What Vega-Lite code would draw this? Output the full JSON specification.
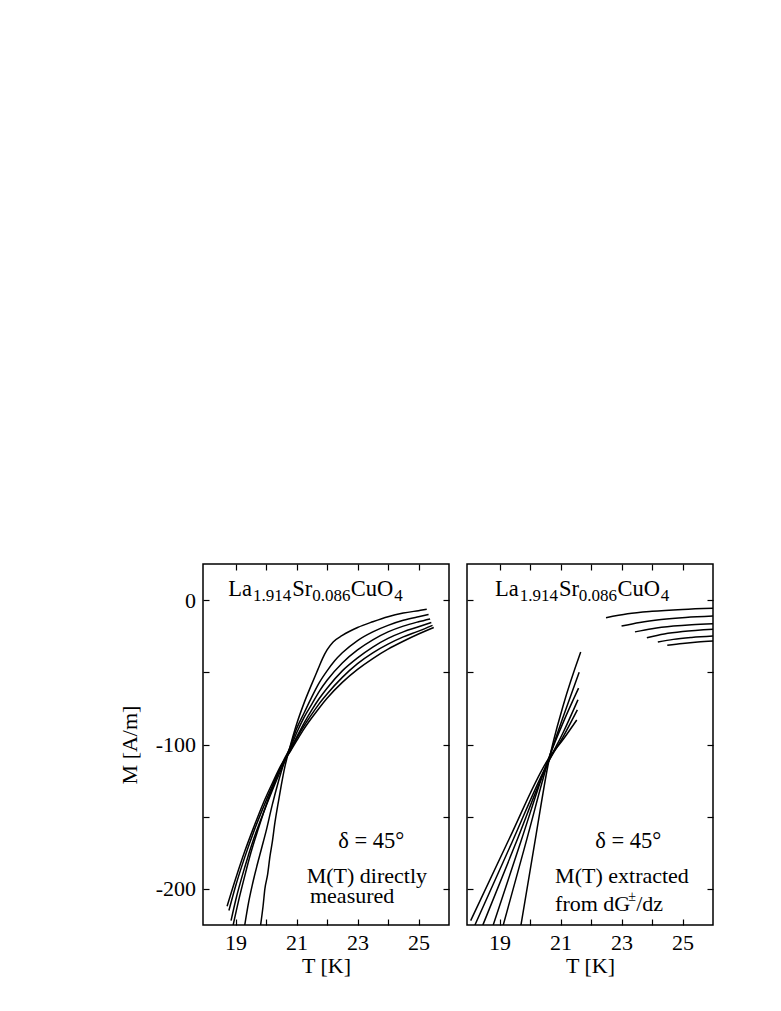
{
  "$schema": "https://vega.github.io/schema/vega-lite/v6.json",
  "background": "white",
  "padding": {"left": 117, "top": 562, "right": 5, "bottom": 5},
  "datasets": {
    "left": [
      {"c":0,"T":19.82,"M":-225},{"c":0,"T":19.9,"M":-212},{"c":0,"T":19.96,"M":-200},{"c":0,"T":20.05,"M":-190},{"c":0,"T":20.13,"M":-177},{"c":0,"T":20.2,"M":-168},{"c":0,"T":20.29,"M":-154},{"c":0,"T":20.4,"M":-140},{"c":0,"T":20.5,"M":-128},{"c":0,"T":20.62,"M":-115},{"c":0,"T":20.78,"M":-102},{"c":0,"T":21.0,"M":-86},{"c":0,"T":21.25,"M":-71},{"c":0,"T":21.5,"M":-58},{"c":0,"T":21.7,"M":-48},{"c":0,"T":21.85,"M":-40.5},{"c":0,"T":22.0,"M":-34.5},{"c":0,"T":22.2,"M":-29},{"c":0,"T":22.5,"M":-24.5},{"c":0,"T":23.0,"M":-19},{"c":0,"T":23.5,"M":-15},{"c":0,"T":24.0,"M":-11.5},{"c":0,"T":24.5,"M":-9},{"c":0,"T":25.0,"M":-7.3},{"c":0,"T":25.27,"M":-6.4},
      {"c":1,"T":19.3,"M":-225},{"c":1,"T":19.42,"M":-210},{"c":1,"T":19.55,"M":-197},{"c":1,"T":19.7,"M":-184},{"c":1,"T":19.85,"M":-172},{"c":1,"T":20.0,"M":-160},{"c":1,"T":20.2,"M":-142},{"c":1,"T":20.4,"M":-126},{"c":1,"T":20.6,"M":-112},{"c":1,"T":20.8,"M":-101},{"c":1,"T":21.0,"M":-89},{"c":1,"T":21.25,"M":-78},{"c":1,"T":21.5,"M":-67},{"c":1,"T":21.75,"M":-57},{"c":1,"T":22.0,"M":-49},{"c":1,"T":22.25,"M":-42},{"c":1,"T":22.5,"M":-36.5},{"c":1,"T":23.0,"M":-28},{"c":1,"T":23.5,"M":-22},{"c":1,"T":24.0,"M":-17.5},{"c":1,"T":24.5,"M":-14},{"c":1,"T":25.0,"M":-11.5},{"c":1,"T":25.33,"M":-10},
      {"c":2,"T":18.92,"M":-225},{"c":2,"T":19.1,"M":-208},{"c":2,"T":19.3,"M":-191},{"c":2,"T":19.5,"M":-175},{"c":2,"T":19.75,"M":-158},{"c":2,"T":20.0,"M":-142},{"c":2,"T":20.3,"M":-125},{"c":2,"T":20.6,"M":-110},{"c":2,"T":20.8,"M":-102},{"c":2,"T":21.0,"M":-92},{"c":2,"T":21.25,"M":-81},{"c":2,"T":21.5,"M":-72},{"c":2,"T":21.75,"M":-63},{"c":2,"T":22.0,"M":-55.5},{"c":2,"T":22.5,"M":-43.5},{"c":2,"T":23.0,"M":-34.5},{"c":2,"T":23.5,"M":-27.5},{"c":2,"T":24.0,"M":-22},{"c":2,"T":24.5,"M":-18},{"c":2,"T":25.0,"M":-15},{"c":2,"T":25.38,"M":-13},
      {"c":3,"T":18.85,"M":-222},{"c":3,"T":19.0,"M":-208},{"c":3,"T":19.3,"M":-185},{"c":3,"T":19.6,"M":-165},{"c":3,"T":19.9,"M":-148},{"c":3,"T":20.2,"M":-132},{"c":3,"T":20.5,"M":-117},{"c":3,"T":20.8,"M":-103},{"c":3,"T":21.0,"M":-95},{"c":3,"T":21.25,"M":-85},{"c":3,"T":21.5,"M":-76},{"c":3,"T":21.75,"M":-68},{"c":3,"T":22.0,"M":-61},{"c":3,"T":22.5,"M":-49},{"c":3,"T":23.0,"M":-40},{"c":3,"T":23.5,"M":-32.5},{"c":3,"T":24.0,"M":-26.5},{"c":3,"T":24.5,"M":-22},{"c":3,"T":25.0,"M":-18.5},{"c":3,"T":25.42,"M":-15.5},
      {"c":4,"T":18.78,"M":-215},{"c":4,"T":19.0,"M":-198},{"c":4,"T":19.3,"M":-178},{"c":4,"T":19.6,"M":-160},{"c":4,"T":19.9,"M":-144},{"c":4,"T":20.2,"M":-129},{"c":4,"T":20.5,"M":-115},{"c":4,"T":20.8,"M":-104},{"c":4,"T":21.0,"M":-96},{"c":4,"T":21.25,"M":-87},{"c":4,"T":21.5,"M":-79},{"c":4,"T":21.75,"M":-71.5},{"c":4,"T":22.0,"M":-65},{"c":4,"T":22.5,"M":-53.5},{"c":4,"T":23.0,"M":-44},{"c":4,"T":23.5,"M":-36.5},{"c":4,"T":24.0,"M":-30.5},{"c":4,"T":24.5,"M":-25.5},{"c":4,"T":25.0,"M":-21.5},{"c":4,"T":25.46,"M":-17.5},
      {"c":5,"T":18.72,"M":-212},{"c":5,"T":19.0,"M":-193},{"c":5,"T":19.3,"M":-174},{"c":5,"T":19.6,"M":-157},{"c":5,"T":19.9,"M":-141},{"c":5,"T":20.2,"M":-127},{"c":5,"T":20.5,"M":-114},{"c":5,"T":20.8,"M":-104.5},{"c":5,"T":21.0,"M":-97.5},{"c":5,"T":21.25,"M":-89},{"c":5,"T":21.5,"M":-81.5},{"c":5,"T":21.75,"M":-74.5},{"c":5,"T":22.0,"M":-68},{"c":5,"T":22.5,"M":-57},{"c":5,"T":23.0,"M":-48},{"c":5,"T":23.5,"M":-40.5},{"c":5,"T":24.0,"M":-34},{"c":5,"T":24.5,"M":-28.5},{"c":5,"T":25.0,"M":-23.5},{"c":5,"T":25.5,"M":-19}
    ],
    "right": [
      {"c":0,"T":19.7,"M":-225},{"c":0,"T":20.2,"M":-162},{"c":0,"T":20.6,"M":-113},{"c":0,"T":21.1,"M":-72},{"c":0,"T":21.66,"M":-36},
      {"c":1,"T":19.12,"M":-225},{"c":1,"T":19.9,"M":-165},{"c":1,"T":20.6,"M":-111},{"c":1,"T":21.1,"M":-80},{"c":1,"T":21.61,"M":-50},
      {"c":2,"T":18.79,"M":-225},{"c":2,"T":19.7,"M":-167},{"c":2,"T":20.6,"M":-110},{"c":2,"T":21.1,"M":-84},{"c":2,"T":21.59,"M":-61},
      {"c":3,"T":18.45,"M":-225},{"c":3,"T":19.5,"M":-170},{"c":3,"T":20.6,"M":-112},{"c":3,"T":21.1,"M":-91},{"c":3,"T":21.57,"M":-69},
      {"c":4,"T":18.19,"M":-225},{"c":4,"T":19.4,"M":-168},{"c":4,"T":20.6,"M":-112},{"c":4,"T":21.1,"M":-94},{"c":4,"T":21.55,"M":-76},
      {"c":5,"T":18.05,"M":-222},{"c":5,"T":19.3,"M":-166},{"c":5,"T":20.6,"M":-110},{"c":5,"T":21.1,"M":-96},{"c":5,"T":21.53,"M":-83},
      {"c":6,"T":22.49,"M":-12.2},{"c":6,"T":23.2,"M":-9.5},{"c":6,"T":24.0,"M":-7.8},{"c":6,"T":25.0,"M":-6.5},{"c":6,"T":26.0,"M":-5.7},
      {"c":7,"T":23.0,"M":-18},{"c":7,"T":23.6,"M":-15.5},{"c":7,"T":24.3,"M":-13.5},{"c":7,"T":25.1,"M":-12},{"c":7,"T":26.0,"M":-11},
      {"c":8,"T":23.44,"M":-22},{"c":8,"T":24.0,"M":-19.8},{"c":8,"T":24.7,"M":-18},{"c":8,"T":25.3,"M":-17},{"c":8,"T":26.0,"M":-16.3},
      {"c":9,"T":23.83,"M":-26},{"c":9,"T":24.4,"M":-23.5},{"c":9,"T":25.0,"M":-21.8},{"c":9,"T":26.0,"M":-20.2},
      {"c":10,"T":24.19,"M":-29},{"c":10,"T":24.7,"M":-27.2},{"c":10,"T":25.3,"M":-25.9},{"c":10,"T":26.0,"M":-24.9},
      {"c":11,"T":24.5,"M":-31.3},{"c":11,"T":25.0,"M":-30},{"c":11,"T":25.5,"M":-29},{"c":11,"T":26.0,"M":-28.3}
    ]
  },
  "spacing": 18,
  "bounds": "flush",
  "hconcat": [
    {
      "width": 246,
      "height": 361,
      "resolve": {"axis": {"x": "independent", "y": "independent"}},
      "layer": [
        {
          "data": {"name": "left"},
          "mark": {"type": "line", "color": "black", "strokeWidth": 1.5, "interpolate": "monotone", "clip": true},
          "encoding": {
            "x": {"field": "T", "type": "quantitative", "scale": {"domain": [17.93, 26], "nice": false, "zero": false},
                  "axis": {"orient": "bottom", "values": [19,20,21,22,23,24,25], "labelExpr": "datum.value % 2 == 1 ? datum.label : ''", "title": "T [K]"}},
            "y": {"field": "M", "type": "quantitative", "scale": {"domain": [-225, 25], "nice": false, "zero": false},
                  "axis": {"orient": "left", "values": [-200,-150,-100,-50,0], "labelExpr": "datum.value % 100 == 0 ? '' + datum.value : ''", "title": "M [A/m]"}},
            "detail": {"field": "c", "type": "nominal"}
          }
        },
        {
          "data": {"values": [{}]},
          "mark": {"type": "text", "text": "La", "align": "left", "baseline": "alphabetic", "font": "Liberation Serif", "fontSize": 22.5, "color": "black"},
          "encoding": {
            "x": {"datum": 18.76, "type": "quantitative", "axis": {"orient": "top", "values": [19,20,21,22,23,24,25], "labels": false, "title": null}},
            "y": {"datum": 2.84, "type": "quantitative", "axis": {"orient": "right", "values": [-200,-150,-100,-50,0], "labels": false, "title": null}}
          }
        },
        {
          "data": {"values": [{}]},
          "mark": {"type": "text", "text": "1.914", "align": "left", "baseline": "alphabetic", "font": "Liberation Serif", "fontSize": 17, "color": "black"},
          "encoding": {"x": {"datum": 19.57, "type": "quantitative", "axis": null}, "y": {"datum": -0.6, "type": "quantitative", "axis": null}}
        },
        {
          "data": {"values": [{}]},
          "mark": {"type": "text", "text": "Sr", "align": "left", "baseline": "alphabetic", "font": "Liberation Serif", "fontSize": 22.5, "color": "black"},
          "encoding": {"x": {"datum": 20.86, "type": "quantitative", "axis": null}, "y": {"datum": 2.84, "type": "quantitative", "axis": null}}
        },
        {
          "data": {"values": [{}]},
          "mark": {"type": "text", "text": "0.086", "align": "left", "baseline": "alphabetic", "font": "Liberation Serif", "fontSize": 17, "color": "black"},
          "encoding": {"x": {"datum": 21.51, "type": "quantitative", "axis": null}, "y": {"datum": -0.6, "type": "quantitative", "axis": null}}
        },
        {
          "data": {"values": [{}]},
          "mark": {"type": "text", "text": "CuO", "align": "left", "baseline": "alphabetic", "font": "Liberation Serif", "fontSize": 22.5, "color": "black"},
          "encoding": {"x": {"datum": 22.78, "type": "quantitative", "axis": null}, "y": {"datum": 2.84, "type": "quantitative", "axis": null}}
        },
        {
          "data": {"values": [{}]},
          "mark": {"type": "text", "text": "4", "align": "left", "baseline": "alphabetic", "font": "Liberation Serif", "fontSize": 17, "color": "black"},
          "encoding": {"x": {"datum": 24.2, "type": "quantitative", "axis": null}, "y": {"datum": -0.6, "type": "quantitative", "axis": null}}
        },
        {
          "data": {"values": [{}]},
          "mark": {"type": "text", "text": "δ = 45°", "align": "center", "baseline": "alphabetic", "font": "Liberation Serif", "fontSize": 22.5, "color": "black"},
          "encoding": {"x": {"datum": 23.45, "type": "quantitative", "axis": null}, "y": {"datum": -171.5, "type": "quantitative", "axis": null}}
        },
        {
          "data": {"values": [{}]},
          "mark": {"type": "text", "text": "M(T) directly", "align": "left", "baseline": "alphabetic", "font": "Liberation Serif", "fontSize": 22, "color": "black"},
          "encoding": {"x": {"datum": 21.33, "type": "quantitative", "axis": null}, "y": {"datum": -195.7, "type": "quantitative", "axis": null}}
        },
        {
          "data": {"values": [{}]},
          "mark": {"type": "text", "text": "measured", "align": "left", "baseline": "alphabetic", "font": "Liberation Serif", "fontSize": 22, "color": "black"},
          "encoding": {"x": {"datum": 21.44, "type": "quantitative", "axis": null}, "y": {"datum": -210, "type": "quantitative", "axis": null}}
        }
      ]
    },
    {
      "width": 246,
      "height": 361,
      "resolve": {"axis": {"x": "independent", "y": "independent"}},
      "layer": [
        {
          "data": {"name": "right"},
          "mark": {"type": "line", "color": "black", "strokeWidth": 1.5, "interpolate": "monotone", "clip": true},
          "encoding": {
            "x": {"field": "T", "type": "quantitative", "scale": {"domain": [17.93, 26], "nice": false, "zero": false},
                  "axis": {"orient": "bottom", "values": [19,20,21,22,23,24,25], "labelExpr": "datum.value % 2 == 1 ? datum.label : ''", "title": "T [K]"}},
            "y": {"field": "M", "type": "quantitative", "scale": {"domain": [-225, 25], "nice": false, "zero": false},
                  "axis": {"orient": "left", "values": [-200,-150,-100,-50,0], "labels": false, "title": null}},
            "detail": {"field": "c", "type": "nominal"}
          }
        },
        {
          "data": {"values": [{}]},
          "mark": {"type": "text", "text": "La", "align": "left", "baseline": "alphabetic", "font": "Liberation Serif", "fontSize": 22.5, "color": "black"},
          "encoding": {
            "x": {"datum": 18.85, "type": "quantitative", "axis": {"orient": "top", "values": [19,20,21,22,23,24,25], "labels": false, "title": null}},
            "y": {"datum": 2.84, "type": "quantitative", "axis": {"orient": "right", "values": [-200,-150,-100,-50,0], "labels": false, "title": null}}
          }
        },
        {
          "data": {"values": [{}]},
          "mark": {"type": "text", "text": "1.914", "align": "left", "baseline": "alphabetic", "font": "Liberation Serif", "fontSize": 17, "color": "black"},
          "encoding": {"x": {"datum": 19.66, "type": "quantitative", "axis": null}, "y": {"datum": -0.6, "type": "quantitative", "axis": null}}
        },
        {
          "data": {"values": [{}]},
          "mark": {"type": "text", "text": "Sr", "align": "left", "baseline": "alphabetic", "font": "Liberation Serif", "fontSize": 22.5, "color": "black"},
          "encoding": {"x": {"datum": 20.95, "type": "quantitative", "axis": null}, "y": {"datum": 2.84, "type": "quantitative", "axis": null}}
        },
        {
          "data": {"values": [{}]},
          "mark": {"type": "text", "text": "0.086", "align": "left", "baseline": "alphabetic", "font": "Liberation Serif", "fontSize": 17, "color": "black"},
          "encoding": {"x": {"datum": 21.6, "type": "quantitative", "axis": null}, "y": {"datum": -0.6, "type": "quantitative", "axis": null}}
        },
        {
          "data": {"values": [{}]},
          "mark": {"type": "text", "text": "CuO", "align": "left", "baseline": "alphabetic", "font": "Liberation Serif", "fontSize": 22.5, "color": "black"},
          "encoding": {"x": {"datum": 22.87, "type": "quantitative", "axis": null}, "y": {"datum": 2.84, "type": "quantitative", "axis": null}}
        },
        {
          "data": {"values": [{}]},
          "mark": {"type": "text", "text": "4", "align": "left", "baseline": "alphabetic", "font": "Liberation Serif", "fontSize": 17, "color": "black"},
          "encoding": {"x": {"datum": 24.29, "type": "quantitative", "axis": null}, "y": {"datum": -0.6, "type": "quantitative", "axis": null}}
        },
        {
          "data": {"values": [{}]},
          "mark": {"type": "text", "text": "δ = 45°", "align": "center", "baseline": "alphabetic", "font": "Liberation Serif", "fontSize": 22.5, "color": "black"},
          "encoding": {"x": {"datum": 23.22, "type": "quantitative", "axis": null}, "y": {"datum": -171.5, "type": "quantitative", "axis": null}}
        },
        {
          "data": {"values": [{}]},
          "mark": {"type": "text", "text": "M(T) extracted", "align": "left", "baseline": "alphabetic", "font": "Liberation Serif", "fontSize": 22, "color": "black"},
          "encoding": {"x": {"datum": 20.82, "type": "quantitative", "axis": null}, "y": {"datum": -195.7, "type": "quantitative", "axis": null}}
        },
        {
          "data": {"values": [{}]},
          "mark": {"type": "text", "text": "from dG", "align": "left", "baseline": "alphabetic", "font": "Liberation Serif", "fontSize": 22, "color": "black"},
          "encoding": {"x": {"datum": 20.82, "type": "quantitative", "axis": null}, "y": {"datum": -215.3, "type": "quantitative", "axis": null}}
        },
        {
          "data": {"values": [{}]},
          "mark": {"type": "text", "text": "±", "align": "left", "baseline": "alphabetic", "font": "Liberation Serif", "fontSize": 14, "color": "black"},
          "encoding": {"x": {"datum": 23.22, "type": "quantitative", "axis": null}, "y": {"datum": -208.5, "type": "quantitative", "axis": null}}
        },
        {
          "data": {"values": [{}]},
          "mark": {"type": "text", "text": "/dz", "align": "left", "baseline": "alphabetic", "font": "Liberation Serif", "fontSize": 22, "color": "black"},
          "encoding": {"x": {"datum": 23.48, "type": "quantitative", "axis": null}, "y": {"datum": -215.3, "type": "quantitative", "axis": null}}
        }
      ]
    }
  ],
  "config": {
    "view": {"stroke": "black", "strokeWidth": 1.5},
    "axis": {
      "domain": false,
      "grid": false,
      "tickColor": "black",
      "tickSize": -6,
      "tickWidth": 1.2,
      "labelFont": "Liberation Serif",
      "labelFontSize": 22,
      "labelColor": "black",
      "labelPadding": 13.5,
      "labelOverlap": false,
      "labelFlush": false,
      "titleFont": "Liberation Serif",
      "titleFontSize": 22,
      "titleFontWeight": "normal",
      "titleColor": "black"
    },
    "axisX": {"titlePadding": 2},
    "axisY": {"titlePadding": 14}
  }
}
